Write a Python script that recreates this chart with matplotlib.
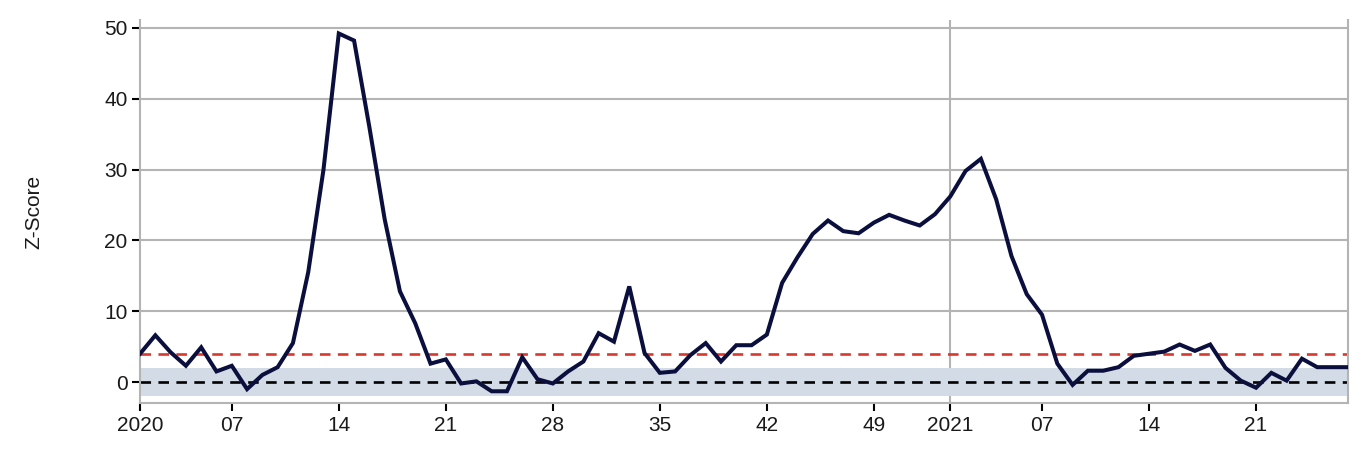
import matplotlib
matplotlib.use("Agg")
import matplotlib.pyplot as plt

# weekly z-scores, 2020 W01 .. 2021 W27
years = [2020] * 53 + [2021] * 27
weeks = list(range(1, 54)) + list(range(1, 28))
zscore = [4.0, 6.6, 4.2, 2.3, 4.9, 1.5, 2.3, -1.0, 1.0, 2.1,
          5.5, 15.5, 30.0, 49.2, 48.2, 36.0, 23.0, 12.8, 8.3, 2.6,
          3.2, -0.2, 0.1, -1.3, -1.3, 3.5, 0.4, -0.2, 1.5, 2.9,
          6.9, 5.7, 13.5, 4.1, 1.3, 1.5, 3.8, 5.5, 2.9, 5.2,
          5.2, 6.7, 14.0, 17.6, 20.9, 22.8, 21.3, 21.0, 22.5, 23.6,
          22.8, 22.1, 23.7, 26.2, 29.8, 31.5, 25.8, 17.8, 12.4, 9.5,
          2.6, -0.4, 1.6, 1.6, 2.1, 3.7, 4.0, 4.3, 5.3, 4.4,
          5.3, 2.0, 0.2, -0.8, 1.3, 0.2, 3.3, 2.1, 2.1, 2.1]

threshold = 4.0
band_lo, band_hi = -2.0, 2.0
baseline = 0.0

plt.rcParams['font.family'] = ['Liberation Sans', 'DejaVu Sans']

x = list(range(len(zscore)))

# tick every 7th week, year label on week 1
tick_pos = []
tick_lab = []
for i in x:
    if weeks[i] == 1:
        tick_pos.append(i)
        tick_lab.append(str(years[i]))
    elif weeks[i] % 7 == 0:
        tick_pos.append(i)
        tick_lab.append("%02d" % weeks[i])

fig = plt.figure(figsize=(13.69, 4.55), dpi=100)
ax = fig.add_axes([0.1023, 0.1136, 0.8822, 0.8424])

grid_col = '#b4b4b4'
ax.axhspan(band_lo, band_hi, color='#d3dbe6', lw=0, zorder=1)
for v in [10, 20, 30, 40, 50]:
    ax.axhline(v, color=grid_col, lw=1.5, zorder=0)
ax.axvline(tick_pos[tick_lab.index('2021')], color=grid_col, lw=1.5, zorder=0)

ax.axhline(threshold, color='#d9382f', lw=1.9, dashes=(4, 2.8), zorder=2)
ax.axhline(baseline, color='black', lw=1.9, dashes=(4, 2.8), zorder=2)

ax.plot(x, zscore, color='#0b0f3d', lw=2.9, zorder=3, solid_joinstyle='miter')

ax.set_xlim(0, len(zscore) - 1)
ax.set_ylim(-3, 51.1)
ax.set_xticks(tick_pos)
ax.set_xticklabels(tick_lab)
ax.set_yticks([0, 10, 20, 30, 40, 50])

for s in ['left', 'right', 'bottom']:
    ax.spines[s].set_color(grid_col)
    ax.spines[s].set_linewidth(1.5)
ax.spines['top'].set_visible(False)

ax.tick_params(axis='both', direction='out', length=6, width=1.5,
               color='black', labelsize=15, labelcolor='#1a1a1a', pad=3)

ax.set_ylabel('Z-Score', fontsize=15, color='#1a1a1a')
ax.yaxis.set_label_coords(-0.080, 0.5)

fig.savefig('out.png', dpi=100)
